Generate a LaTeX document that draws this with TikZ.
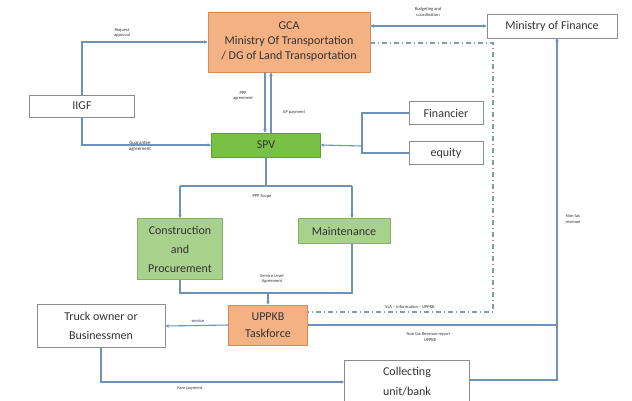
\documentclass[tikz,border=0pt]{standalone}
\usepackage{fontspec}
\setmainfont{Carlito}
\usetikzlibrary{arrows.meta}
\definecolor{orfill}{HTML}{F4B183}
\definecolor{ordraw}{HTML}{D9895A}
\definecolor{gfill}{HTML}{78C144}
\definecolor{gdraw}{HTML}{5EA033}
\definecolor{lgfill}{HTML}{A9D18E}
\definecolor{lgdraw}{HTML}{86B266}
\definecolor{wdraw}{HTML}{8C8C8C}
\definecolor{conn}{HTML}{6E92B8}
\definecolor{dd}{HTML}{7C9FA8}
\definecolor{txt}{HTML}{333333}
\begin{document}
\begin{tikzpicture}[x=1pt,y=-1pt,
  box/.style={draw=wdraw,fill=white,line width=0.8pt,align=center,font=\fontsize{12}{15}\selectfont,text=txt,inner sep=0pt},
  obox/.style={box,draw=ordraw,fill=orfill},
  gbox/.style={box,draw=gdraw,fill=gfill},
  lgbox/.style={box,draw=lgdraw,fill=lgfill},
  ln/.style={draw=conn,line width=1.1pt},
  arr/.style={ln,-{Stealth[length=3.5pt,width=3.5pt]}},
  lbl/.style={font=\fontsize{4.5}{5.5}\selectfont,text=txt,align=center,inner sep=0pt}]
\clip (0,0) rectangle (632,400);
\fill[white] (0,0) rectangle (632,400);
% nodes
\node[obox,minimum width=162pt,minimum height=60pt] (gca) at (289,42) {GCA\\Ministry Of Transportation\\/ DG of Land Transportation};
\node[box,minimum width=130pt,minimum height=24pt] (mof) at (552,26) {Ministry of Finance};
\node[box,minimum width=105pt,minimum height=22pt] (iigf) at (82,106) {IIGF};
\node[gbox,minimum width=109pt,minimum height=24pt] (spv) at (266,145) {SPV};
\node[box,minimum width=74pt,minimum height=23pt] (fin) at (446,113) {Financier};
\node[box,minimum width=74pt,minimum height=23pt] (eq) at (446,153) {equity};
\node[lgbox,minimum width=85pt,minimum height=61pt,font=\fontsize{12}{19}\selectfont] (con) at (180,249) {Construction\\and\\Procurement};
\node[lgbox,minimum width=92pt,minimum height=25pt] (mai) at (344,231) {Maintenance};
\node[obox,minimum width=79pt,minimum height=40pt,font=\fontsize{12}{17}\selectfont] (upp) at (268,325) {UPPKB\\Taskforce};
\node[box,minimum width=128pt,minimum height=43pt,font=\fontsize{12}{19}\selectfont] (trk) at (101,326) {Truck owner or\\Businessmen};
\node[box,minimum width=125pt,minimum height=44pt,font=\fontsize{12}{20}\selectfont] (bank) at (407,382) {Collecting\\unit/bank};
% helper coordinates
\coordinate (vl) at (265,0);
\coordinate (vr) at (271,0);
\coordinate (dd1) at (493,43);
\coordinate (dd2) at (493,312);
\coordinate (fj1) at (362,113);
\coordinate (fj2) at (362,153);
\coordinate (fj3) at (362,146);
\coordinate (sp) at (266,186);
\coordinate (spl) at (180,186);
\coordinate (spr) at (352,186);
\coordinate (mgl) at (180,293);
\coordinate (mgr) at (352,293);
\coordinate (mgc) at (268,293);
\coordinate (rv) at (557,325);
\coordinate (rb) at (557,380);
\coordinate (rt) at (557,38);
% connectors
\draw[arr] (iigf.north) |- (gca.west);
\node[lbl] at (122,33) {Request\\approval};
\draw[arr] (iigf.south) |- (spv.west);
\node[lbl,font=\fontsize{5}{6}\selectfont] at (140,146) {Guarantee\\agreement};
\draw[arr] (gca.south -| vl) -- (spv.north -| vl);
\draw[arr] (spv.north -| vr) -- (gca.south -| vr);
\node[lbl] at (243,96) {PPP\\agreement};
\node[lbl] at (294,112) {AP payment};
\draw[ln,{Stealth[length=3.5pt,width=3.5pt]}-{Stealth[length=3.5pt,width=3.5pt]}] (gca.east |- mof.west) -- (mof.west);
\node[lbl] at (428,12) {Budgeting and\\coordination};
\draw[draw=dd,line width=1.1pt,dash pattern=on 5pt off 3pt on 1pt off 3pt] (gca.east |- dd1) -- (dd1) -- (dd2) -- (upp.east |- dd2);
\node[lbl] at (410,307) {SLA -- Information -- UPPKB};
\draw[ln] (fin.west) -- (fj1) -- (fj2) -- (eq.west);
\draw[arr] (fj3) -- (spv.east);
\draw[ln] (spv.south) -- (sp);
\draw[ln] (spl) -- (spr);
\draw[arr] (spl) -- (con.north);
\draw[arr] (spr) -- (spr |- mai.north);
\node[lbl] at (262,196) {PPP Scope};
\draw[ln] (con.south) -- (mgl) -- (mgr) -- (mgr |- mai.south);
\draw[arr] (mgc) -- (upp.north);
\node[lbl] at (272,279) {Service Level\\Agreement};
\draw[arr] (upp.west) -- (trk.east);
\node[lbl] at (198,321) {service};
\draw[ln] (upp.east |- rv) -- (rv);
\draw[ln] (bank.east |- rb) -- (rb) -- (rv);
\draw[arr] (rv) -- (rt);
\node[lbl] at (573,219) {Non tax\\revenue};
\node[lbl] at (430,337) {Non tax Revenue report --\\UPPKB};
\draw[arr] (trk.south) |- (bank.west);
\node[lbl] at (190,388) {Fare payment};
\end{tikzpicture}
\end{document}
